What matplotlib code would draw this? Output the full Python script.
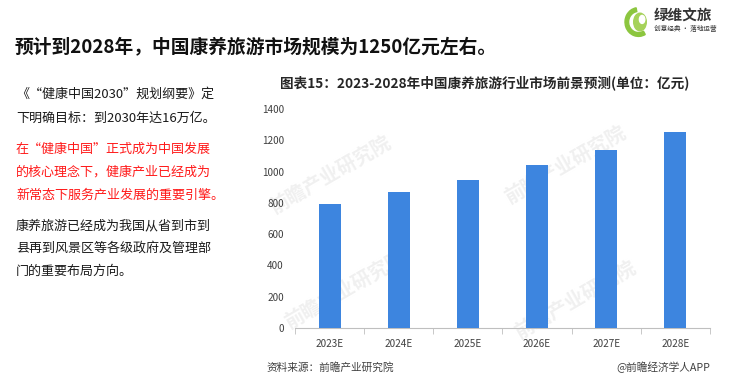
import matplotlib
matplotlib.use("Agg")
import matplotlib.pyplot as plt
from matplotlib.patches import Wedge, Ellipse
import numpy as np

plt.rcParams['font.family'] = ['Noto Sans CJK SC', 'DejaVu Sans']

categories = ["2023E", "2024E", "2025E", "2026E", "2027E", "2028E"]
values = [795, 870, 948, 1040, 1137, 1250]
yticks = [0, 200, 400, 600, 800, 1000, 1200, 1400]

headline = "预计到2028年，中国康养旅游市场规模为1250亿元左右。"
chart_title = "图表15：2023-2028年中国康养旅游行业市场前景预测(单位：亿元)"
source = "资料来源：前瞻产业研究院"
credit = "@前瞻经济学人APP"
para1 = ["《“健康中国2030”规划纲要》定", "下明确目标：到2030年达16万亿。"]
para2 = ["在“健康中国”正式成为中国发展", "的核心理念下，健康产业已经成为", "新常态下服务产业发展的重要引擎。"]
para3 = ["康养旅游已经成为我国从省到市到", "县再到风景区等各级政府及管理部", "门的重要布局方向。"]

W, H = 744, 385
fig = plt.figure(figsize=(W / 100, H / 100), dpi=100)

def fx(px):
    return px / W

def fy(py):
    return 1 - py / H

# headline
fig.text(fx(15), fy(47), headline, fontsize=13.5, fontweight='bold', color='#111111', va='center', ha='left')

# left paragraphs
y = 94
for line in para1:
    fig.text(fx(16), fy(y), line, fontsize=9.4, color='#1a1a1a', va='center')
    y += 24
y = 149
for line in para2:
    fig.text(fx(16), fy(y), line, fontsize=9.4, color='#ff1a1a', va='center')
    y += 23
y = 226
for line in para3:
    fig.text(fx(16), fy(y), line, fontsize=9.4, color='#1a1a1a', va='center')
    y += 22.5

# chart title
fig.text(fx(485), fy(83), chart_title, fontsize=9.8, fontweight='bold', color='#262626', ha='center', va='center')

# watermarks (behind the chart)
for (wx, wy) in [(330, 175), (565, 165), (345, 290), (575, 300)]:
    fig.text(fx(wx), fy(wy), "前瞻产业研究院", fontsize=14, color='#f0f0f0', rotation=30,
             ha='center', va='center', fontweight='bold', zorder=0)

# axes
ax = fig.add_axes([fx(295), fy(328), fx(710) - fx(295), (328 - 109) / H])
ax.set_zorder(1)
x = np.arange(len(categories))
ax.bar(x, values, width=0.32, color='#3d85df', zorder=3)
ax.set_xlim(-0.5, len(categories) - 0.5)
ax.set_ylim(0, 1400)
ax.set_yticks(yticks)
ax.set_yticklabels([str(v) for v in yticks], fontsize=7.2, color='#404040')
ax.set_xticks(x)
ax.set_xticklabels(categories, fontsize=7.2, color='#404040')
ax.set_xticks(np.arange(-0.5, len(categories), 1.0), minor=True)
ax.tick_params(axis='x', which='major', length=0, pad=8)
ax.tick_params(axis='x', which='minor', length=4, color='#bfbfbf')
ax.tick_params(axis='y', length=0, pad=8)
for s in ['top', 'right', 'left']:
    ax.spines[s].set_visible(False)
ax.spines['bottom'].set_color('#bfbfbf')
ax.patch.set_alpha(0)

# source
fig.text(fx(266), fy(367), source, fontsize=7.7, color='#404040', va='center')
fig.text(fx(710), fy(367), credit, fontsize=7.7, color='#404040', va='center', ha='right')

# logo
lax = fig.add_axes([fx(622), fy(38), fx(30), 32 / H])
lax.set_xlim(0, 1)
lax.set_ylim(0, 1)
lax.axis('off')
lax.add_patch(Wedge((0.55, 0.5), 0.45, 100, 300, width=0.12, color='#8cc63f'))
lax.add_patch(Ellipse((0.6, 0.5), 0.42, 0.55, color='#a6d25a'))
lax.add_patch(Ellipse((0.67, 0.58), 0.18, 0.25, color='#ffffff'))
fig.text(fx(654), fy(15), "绿维文旅", fontsize=10.5, fontweight='bold', color='#333333', va='center')
fig.text(fx(654), fy(29), "创意经典 · 落地运营", fontsize=4.8, color='#333333', va='center')

fig.savefig("out.png", dpi=100)
